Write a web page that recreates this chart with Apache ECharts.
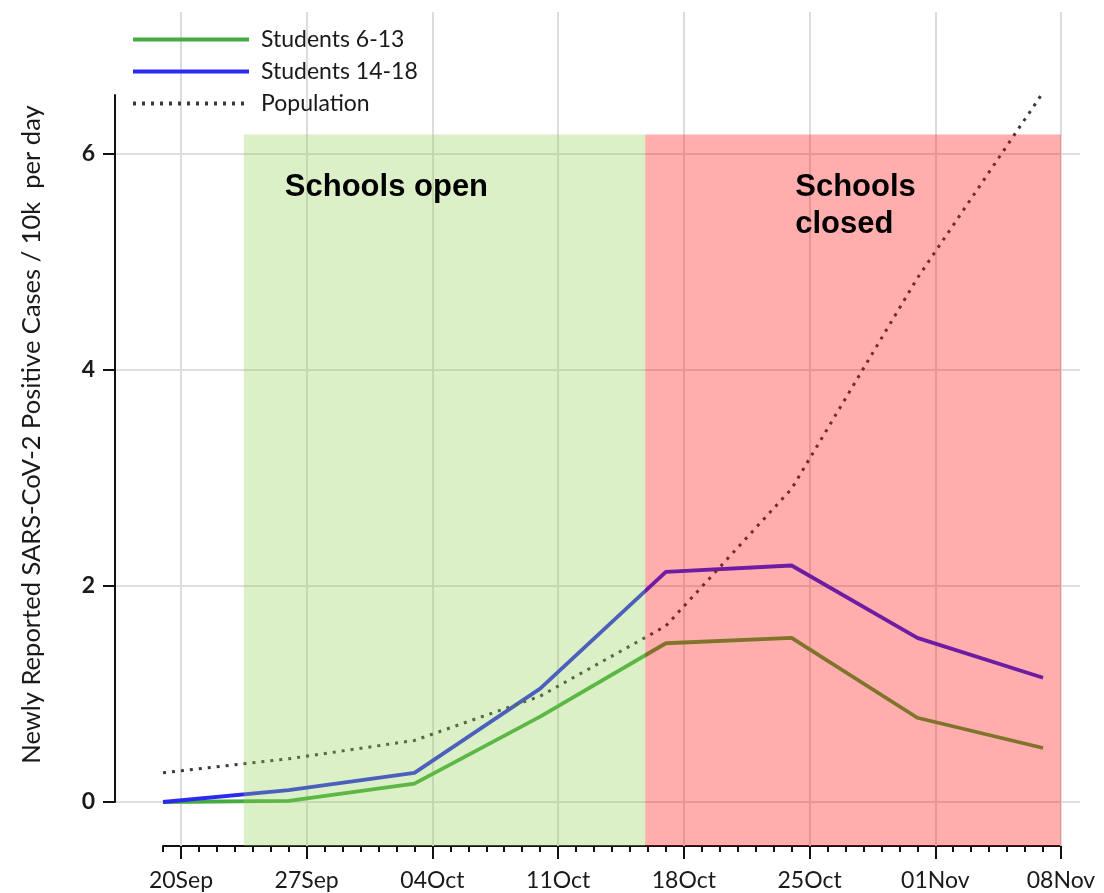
<!DOCTYPE html>
<html>
<head>
<meta charset="utf-8">
<script src="https://cdn.jsdelivr.net/npm/echarts@6/dist/echarts.min.js"></script>
<style>
html,body{margin:0;padding:0;background:#fff;}
#chart{width:1104px;height:893px;}
</style>
</head>
<body>
<div id="chart"></div>
<script>
// ---------------- data ----------------
const START_DATE = '2020-09-19';
const END_DATE = '2020-11-08';
const weekDates = ['2020-09-19','2020-09-26','2020-10-03','2020-10-10','2020-10-17','2020-10-24','2020-10-31','2020-11-07'];
const students6to13  = [0.00, 0.01, 0.17, 0.79, 1.47, 1.52, 0.78, 0.50];
const students14to18 = [0.00, 0.11, 0.27, 1.05, 2.13, 2.19, 1.52, 1.15];
const population     = [0.27, 0.40, 0.57, 0.98, 1.63, 2.90, 4.85, 6.57];
const tickDates  = ['2020-09-20','2020-09-27','2020-10-04','2020-10-11','2020-10-18','2020-10-25','2020-11-01','2020-11-08'];
const tickLabels = ['20Sep','27Sep','04Oct','11Oct','18Oct','25Oct','01Nov','08Nov'];
const yTicks = [0, 2, 4, 6];
const seriesNames = ['Students 6-13', 'Students 14-18', 'Population'];
const periodNames = ['Schools open', 'Schools\nclosed'];
const periodStarts = ['2020-09-23T12:00:00Z', '2020-10-15T20:24:00Z'];
const periodEnds   = ['2020-10-15T20:24:00Z', '2020-11-08T00:00:00Z'];
const periodTop = 6.18;
const yAxisTitle = 'Newly Reported SARS-CoV-2 Positive Cases / 10k  per day';

// ---------------- helpers ----------------
function toDay(d) {
  const s = d.length === 10 ? d + 'T00:00:00Z' : d;
  return (Date.parse(s) - Date.parse(START_DATE + 'T00:00:00Z')) / 86400000;
}
const weekDays = weekDates.map(toDay);
const tickDays = tickDates.map(toDay);
const X_MAX = toDay(END_DATE);
const pairs = vals => weekDays.map((d, i) => [d, vals[i]]);
const tickFormatter = v => {
  const i = tickDays.findIndex(t => Math.abs(t - v) < 1e-6);
  return i >= 0 ? tickLabels[i] : '';
};

// axis extents (layout: y=0 sits above the detached x axis)
const Y_A_MIN = -0.4074, Y_A_MAX = 7.3148;  // full plotting grid
const Y_B_MAX = 6.5463;                      // visible y-axis grid

const FONT = 'Lato';
const GREEN = '#45ab40', BLUE = '#2a2af0', POP = '#3a3a3a';
const TXT = '#1a1a1a';

const chart = echarts.init(document.getElementById('chart'), null, {renderer: 'canvas'});
const option = {
  animation: false,
  backgroundColor: '#ffffff',
  grid: [
    {left: 163, right: 43, top: 12, bottom: 47},
    {left: 115, right: 24, top: 95, bottom: 91}
  ],
  xAxis: [
    {gridIndex: 0, type: 'value', min: 0, max: X_MAX, interval: 1, position: 'bottom',
     axisLine: {show: true, onZero: false, lineStyle: {color: '#111', width: 2}},
     axisTick: {show: true, length: 6, lineStyle: {color: '#111', width: 2}},
     axisLabel: {show: false}, splitLine: {show: false}},
    {gridIndex: 0, type: 'value', min: 0, max: X_MAX, position: 'bottom',
     axisLine: {show: false, onZero: false},
     axisTick: {show: true, length: 13, customValues: tickDays, lineStyle: {color: '#111', width: 2}},
     axisLabel: {show: true, customValues: tickDays, margin: 23, formatter: tickFormatter,
                 color: TXT, fontFamily: FONT, fontSize: 23},
     splitLine: {show: false}},
    {gridIndex: 1, type: 'value', min: 0, max: 1, show: false}
  ],
  yAxis: [
    {gridIndex: 0, type: 'value', min: Y_A_MIN, max: Y_A_MAX, show: false, splitLine: {show: false}},
    {gridIndex: 1, type: 'value', min: 0, max: Y_B_MAX, interval: 2,
     name: yAxisTitle, nameLocation: 'middle', nameGap: 70,
     nameTextStyle: {color: TXT, fontFamily: FONT, fontSize: 25.5, padding: [0, 0, 0, 28]},
     axisLine: {show: true, onZero: false, lineStyle: {color: '#111', width: 2}},
     axisTick: {show: true, length: 12, customValues: yTicks, lineStyle: {color: '#111', width: 2}},
     axisLabel: {customValues: yTicks, margin: 20, color: TXT, fontFamily: FONT, fontSize: 23, fontWeight: 'bold'},
     splitLine: {show: true, lineStyle: {color: ['#dedede', '#dedede', '#dedede', '#dedede', 'rgba(0,0,0,0)'], width: 2}}}
  ],
  legend: {
    left: 126, top: 23, orient: 'vertical',
    itemWidth: 116, itemHeight: 14, itemGap: 9,
    itemStyle: {color: 'rgba(0,0,0,0)', borderColor: 'rgba(0,0,0,0)', borderWidth: 0, opacity: 0},
    lineStyle: {width: 4},
    textStyle: {fontFamily: FONT, fontSize: 23, color: TXT, padding: [0, 0, 0, 7]},
    data: seriesNames
  },
  series: [
    {name: seriesNames[0], type: 'line', xAxisIndex: 0, yAxisIndex: 0, data: pairs(students6to13),
     symbol: 'none', showSymbol: false, z: 2,
     lineStyle: {color: GREEN, width: 3.8}, itemStyle: {color: GREEN}},
    {name: seriesNames[1], type: 'line', xAxisIndex: 0, yAxisIndex: 0, data: pairs(students14to18),
     symbol: 'none', showSymbol: false, z: 2,
     lineStyle: {color: BLUE, width: 3.8}, itemStyle: {color: BLUE}},
    {name: seriesNames[2], type: 'line', xAxisIndex: 0, yAxisIndex: 0, data: pairs(population),
     symbol: 'none', showSymbol: false, z: 2,
     lineStyle: {color: POP, width: 3, type: [3, 6]}, itemStyle: {color: POP},
     markLine: {
       silent: true, z: 1, symbol: ['none', 'none'], label: {show: false},
       lineStyle: {color: '#dcdcdc', width: 2, type: 'solid'},
       emphasis: {disabled: true},
       data: tickDays.map(d => ({xAxis: d}))
     },
     markArea: {
       silent: true, z: 4,
       label: {show: true, color: '#000', fontFamily: 'Liberation Sans', fontWeight: 'bold', fontSize: 31, lineHeight: 37},
       emphasis: {disabled: true},
       data: [
         [{name: periodNames[0], xAxis: toDay(periodStarts[0]), yAxis: Y_A_MIN,
           itemStyle: {color: 'rgba(146,208,80,0.32)'}, label: {position: [41, 34]}},
          {xAxis: toDay(periodEnds[0]), yAxis: periodTop}],
         [{name: periodNames[1], xAxis: toDay(periodStarts[1]), yAxis: Y_A_MIN,
           itemStyle: {color: 'rgba(255,0,0,0.32)'}, label: {position: [150, 34]}},
          {xAxis: toDay(periodEnds[1]), yAxis: periodTop}]
       ]
     }}
  ]
};
chart.setOption(option);
</script>
</body>
</html>
